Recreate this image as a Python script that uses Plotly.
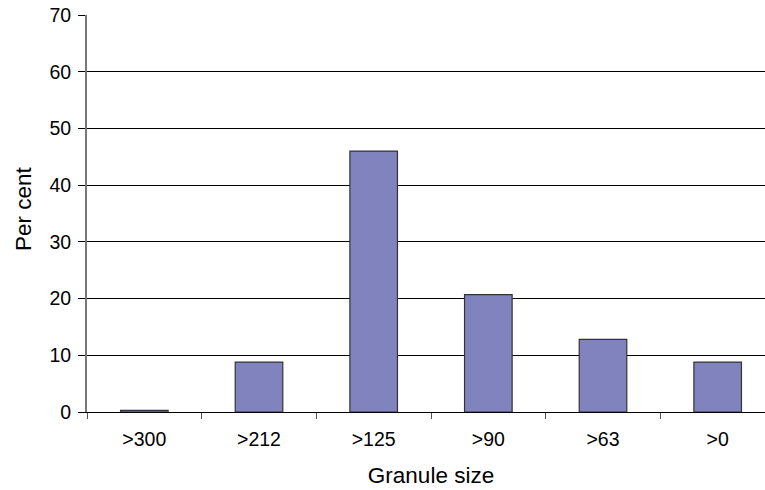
import plotly.graph_objects as go

categories = [">300", ">212", ">125", ">90", ">63", ">0"]
per_cent = [0.3, 8.8, 46.0, 20.7, 12.8, 8.8]
y_ticks = [0, 10, 20, 30, 40, 50, 60, 70]

fig = go.Figure(go.Bar(
    x=categories, y=per_cent,
    marker=dict(color="#8083BD", line=dict(color="#333333", width=1.2)),
    width=0.415,
))

# plot area: x 87..775 (right part clipped by the window), y 15..412
fig.update_layout(
    width=780, height=490,
    margin=dict(l=87, r=5, t=15, b=78),
    paper_bgcolor="white", plot_bgcolor="white",
    font=dict(family="Liberation Sans, Arial, sans-serif", color="black", size=19),
    showlegend=False,
    xaxis=dict(
        title=dict(text="Granule size", font=dict(size=22.5), standoff=17),
        automargin=False,
        showline=True, linecolor="black", linewidth=1,
        ticks="outside", tickson="boundaries", ticklen=6, tickcolor="#555555",
        ticklabelstandoff=10,
        showgrid=False, tickfont=dict(size=19.5),
    ),
    yaxis=dict(
        automargin=False,
        range=[0, 70], tickvals=y_ticks,
        showline=True, linecolor="#777777", linewidth=2,
        ticks="outside", ticklen=7, tickcolor="black",
        ticklabelstandoff=3,
        showgrid=True, gridcolor="black", gridwidth=1,
        zeroline=False, tickfont=dict(size=19.5),
    ),
    annotations=[dict(
        text="Per cent", textangle=-90, showarrow=False,
        xref="paper", yref="paper", x=-0.0916, y=0.514,
        xanchor="center", yanchor="middle",
        font=dict(size=22.5),
    )],
)

fig.write_html(
    "out.html",
    config={"displayModeBar": False},
    post_script="document.body.style.margin='0';document.body.style.overflow='hidden';",
)
